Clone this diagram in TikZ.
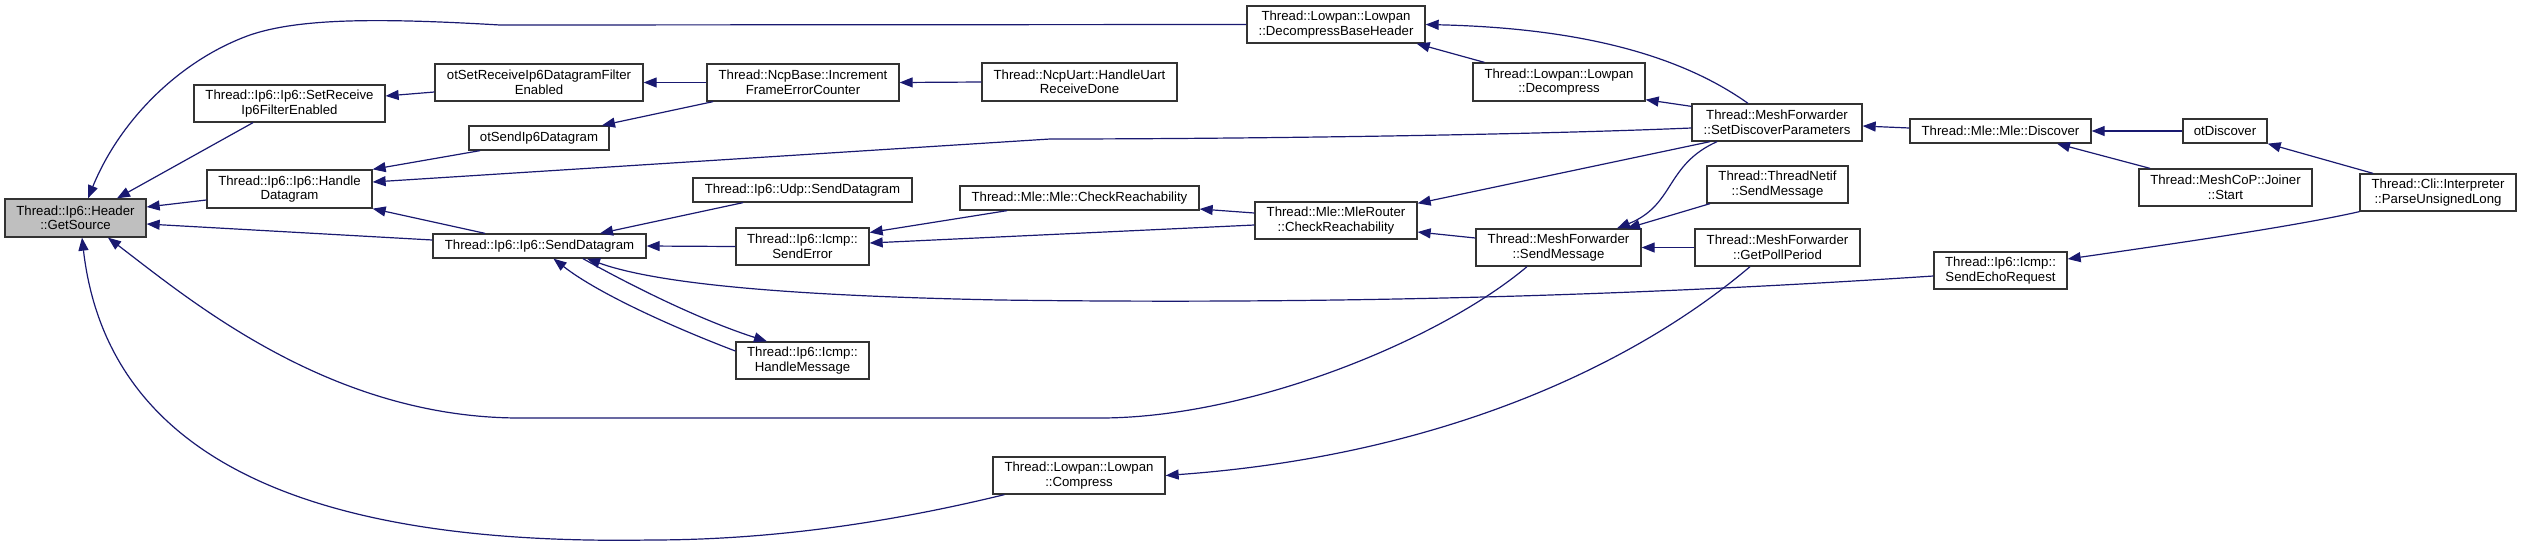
\documentclass[tikz,border=0pt]{standalone}
\usepackage{fontspec}
\setmainfont{Liberation Sans}
\usetikzlibrary{arrows.meta,calc}
\definecolor{edgec}{HTML}{191970}
\definecolor{bordc}{HTML}{333333}
\definecolor{gsfill}{HTML}{BFBFBF}
\begin{document}
\begin{tikzpicture}[x=1pt,y=-1pt,
  fn/.style={draw=bordc, line width=1.3pt, fill=white, inner sep=0pt, align=center,
    font=\fontsize{13.2}{14.5}\selectfont},
  arr/.style={draw=edgec, line width=1.2pt, -{Triangle[length=13pt,width=10pt]}}]
\useasboundingbox (0,0) rectangle (2521,547);
% nodes
\node[fn, fill=gsfill, minimum width=141pt, minimum height=38pt] (gs) at (75.5,218) {Thread::Ip6::Header\\::GetSource};
\node[fn, minimum width=191pt, minimum height=37pt] (setrx) at (289.5,103.5) {Thread::Ip6::Ip6::SetReceive\\Ip6FilterEnabled};
\node[fn, minimum width=165pt, minimum height=38pt] (hd) at (289.5,189) {Thread::Ip6::Ip6::Handle\\Datagram};
\node[fn, minimum width=213pt, minimum height=24pt] (sd) at (539.5,246) {Thread::Ip6::Ip6::SendDatagram};
\node[fn, minimum width=208pt, minimum height=37pt] (otsetrx) at (539,82.5) {otSetReceiveIp6DatagramFilter\\Enabled};
\node[fn, minimum width=140pt, minimum height=24pt] (otsend) at (539,138) {otSendIp6Datagram};
\node[fn, minimum width=192pt, minimum height=37pt] (ifec) at (803,82.5) {Thread::NcpBase::Increment\\FrameErrorCounter};
\node[fn, minimum width=219pt, minimum height=24pt] (udp) at (802.5,190) {Thread::Ip6::Udp::SendDatagram};
\node[fn, minimum width=133pt, minimum height=37pt] (senderr) at (802.5,246.5) {Thread::Ip6::Icmp::\\SendError};
\node[fn, minimum width=133pt, minimum height=37pt] (hm) at (802.5,360.5) {Thread::Ip6::Icmp::\\HandleMessage};
\node[fn, minimum width=195pt, minimum height=38pt] (uart) at (1079.5,82) {Thread::NcpUart::HandleUart\\ReceiveDone};
\node[fn, minimum width=239pt, minimum height=24pt] (mcr) at (1079.5,198) {Thread::Mle::Mle::CheckReachability};
\node[fn, minimum width=172pt, minimum height=37pt] (compress) at (1079,475.5) {Thread::Lowpan::Lowpan\\::Compress};
\node[fn, minimum width=178pt, minimum height=37pt] (dbh) at (1336,24.5) {Thread::Lowpan::Lowpan\\::DecompressBaseHeader};
\node[fn, minimum width=162pt, minimum height=37pt] (mrcr) at (1336,220.5) {Thread::Mle::MleRouter\\::CheckReachability};
\node[fn, minimum width=172pt, minimum height=38pt] (decomp) at (1559,82) {Thread::Lowpan::Lowpan\\::Decompress};
\node[fn, minimum width=165pt, minimum height=37pt] (mfsm) at (1558.5,247.5) {Thread::MeshForwarder\\::SendMessage};
\node[fn, minimum width=170pt, minimum height=37pt] (sdp) at (1777,122.5) {Thread::MeshForwarder\\::SetDiscoverParameters};
\node[fn, minimum width=141pt, minimum height=37pt] (tn) at (1777.5,184.5) {Thread::ThreadNetif\\::SendMessage};
\node[fn, minimum width=165pt, minimum height=37pt] (gpp) at (1777.5,247.5) {Thread::MeshForwarder\\::GetPollPeriod};
\node[fn, minimum width=133pt, minimum height=37pt] (ser) at (2000.5,270.5) {Thread::Ip6::Icmp::\\SendEchoRequest};
\node[fn, minimum width=181pt, minimum height=24pt] (disc) at (2000.5,131) {Thread::Mle::Mle::Discover};
\node[fn, minimum width=84pt, minimum height=24pt] (otdisc) at (2225,131) {otDiscover};
\node[fn, minimum width=173pt, minimum height=37pt] (joiner) at (2225.5,187.5) {Thread::MeshCoP::Joiner\\::Start};
\node[fn, minimum width=156pt, minimum height=37pt] (pul) at (2438,192.5) {Thread::Cli::Interpreter\\::ParseUnsignedLong};
% edges
\draw[arr] (dbh.west) -- (500,25) .. controls (380,18) and (300,18) .. (250,35) .. controls (180,60) and (120,120) .. ($(gs.north)+(12.5,0)$);
\draw[arr] ($(setrx.south)+(-36.5,0)$) -- ($(gs.north)+(41.5,0)$);
\draw[arr] ($(hd.west)+(0,11)$) -- ($(gs.east)+(0,-11)$);
\draw[arr] ($(sd.west)+(0,-6)$) -- ($(gs.east)+(0,6)$);
\draw[arr] ($(mfsm.south)+(-31.5,0)$) .. controls (1440,340) and (1250,418) .. (1100,418) -- (520,418) .. controls (330,418) and (190,300) .. ($(gs.south)+(32.5,0)$);
\draw[arr] ($(compress.south west)+(12,0)$) .. controls (900,520) and (780,540) .. (650,540) .. controls (350,545) and (110,480) .. ($(gs.south)+(6.5,0)$);
\draw[arr] ($(otsetrx.west)+(0,9.5)$) -- ($(setrx.east)+(0,-7.5)$);
\draw[arr] (ifec.west) -- (otsetrx.east);
\draw[arr] (uart.west) -- (ifec.east);
\draw[arr] ($(ifec.south)+(-90,0)$) -- ($(otsend.north)+(63,0)$);
\draw[arr] ($(otsend.south)+(-59,0)$) -- (hd.north east);
\draw[arr] ($(sdp.west)+(0,5.5)$) .. controls (1500,136) and (1200,139) .. (1050,139) -- ($(hd.east)+(0,-7)$);
\draw[arr] ($(sd.north)+(-54.5,0)$) -- (hd.south east);
\draw[arr] ($(udp.south)+(-59.5,0)$) -- ($(sd.north)+(60.5,0)$);
\draw[arr] (senderr.west) -- (sd.east);
\draw[arr] ($(ser.west)+(0,5.5)$) .. controls (1600,298) and (1300,304) .. (1000,300) .. controls (800,296) and (660,285) .. ($(sd.south)+(47.5,0)$);
\draw[arr] ($(hm.west)+(0,-9.5)$) .. controls (680,330) and (600,295) .. ($(sd.south)+(14,0)$);
\draw[arr] ($(sd.south)+(43.5,0)$) .. controls (630,285) and (700,320) .. ($(hm.north)+(-35.5,0)$);
\draw[arr] ($(mcr.south)+(-72.5,0)$) -- ($(senderr.east)+(0,-14)$);
\draw[arr] ($(mrcr.west)+(0,4.5)$) -- ($(senderr.east)+(0,-3.5)$);
\draw[arr] ($(mrcr.west)+(0,-7.5)$) -- ($(mcr.east)+(0,11)$);
\draw[arr] ($(sdp.south)+(-67,0)$) -- ($(mrcr.north east)+(0,2)$);
\draw[arr] ($(mfsm.west)+(0,-9.5)$) -- ($(mrcr.east)+(0,11.5)$);
\draw[arr] ($(sdp.south)+(-60,0)$) .. controls (1665,165) and (1675,205) .. ($(mfsm.north)+(58.5,0)$);
\draw[arr] ($(tn.south)+(-67.5,0)$) -- ($(mfsm.north)+(68.5,0)$);
\draw[arr] (gpp.west) -- (mfsm.east);
\draw[arr] ($(gpp.south)+(-27.5,0)$) .. controls (1640,360) and (1450,455) .. (compress.east);
\draw[arr] ($(sdp.north)+(-29,0)$) .. controls (1680,55) and (1580,28) .. (dbh.east);
\draw[arr] ($(decomp.north west)+(12,0)$) -- ($(dbh.south east)+(-9,0)$);
\draw[arr] ($(sdp.north west)+(0,3)$) -- ($(decomp.south east)+(0,-2)$);
\draw[arr] ($(disc.west)+(0,-3)$) -- ($(sdp.east)+(0,3.5)$);
\draw[arr] (otdisc.west) -- (disc.east);
\draw[arr] ($(joiner.north)+(-75.5,0)$) -- ($(disc.south)+(56.5,0)$);
\draw[arr] ($(pul.north)+(-65,0)$) -- (otdisc.south east);
\draw[arr] (pul.south west) .. controls (2300,225) and (2200,240) .. ($(ser.east)+(0,-11.5)$);
\end{tikzpicture}
\end{document}
